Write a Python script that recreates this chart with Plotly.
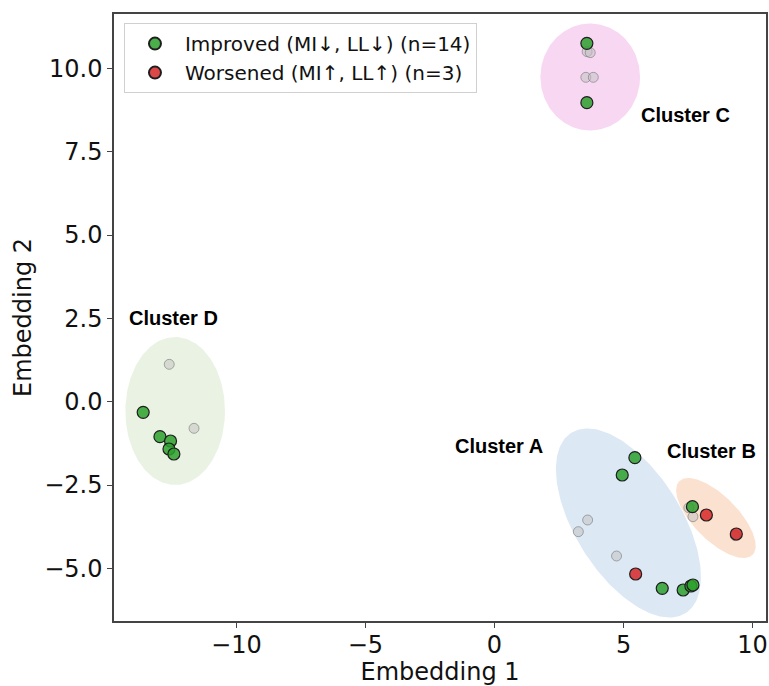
import numpy as np
import plotly.graph_objects as go

# ---- data ----
improved_x = [3.58, 3.58, -13.61, -12.96, -12.55, -12.61, -12.42, 5.44, 4.95, 6.50, 7.31, 7.61, 7.69, 7.67]
improved_y = [10.75, 8.97, -0.32, -1.05, -1.18, -1.42, -1.57, -1.68, -2.20, -5.60, -5.65, -5.53, -5.50, -3.15]

worsened_x = [5.47, 8.21, 9.37]
worsened_y = [-5.17, -3.40, -3.97]

neutral_x = [3.59, 3.71, 3.54, 3.83, -12.60, -11.64, 3.61, 3.25, 4.73, 7.53, 7.69, 9.33]
neutral_y = [10.50, 10.47, 9.73, 9.73, 1.12, -0.80, -3.55, -3.90, -4.63, -3.18, -3.45, -4.02]

cluster_names = ["Cluster A", "Cluster B", "Cluster C", "Cluster D"]
cluster_cx = [5.19, 8.58, 3.71, -12.37]
cluster_cy = [-3.64, -3.49, 9.74, -0.28]
cluster_w = [7.07, 3.62, 3.86, 3.86]
cluster_h = [3.71, 1.47, 3.21, 4.44]
cluster_angle = [-45.5, -35.0, 0.0, 0.0]
cluster_colors = ["#dde8f5", "#fbe1cf", "#f8d7f3", "#eaf3e3"]
label_x = [0.19, 8.41, 7.39, -12.44]
label_y = [-1.33, -1.48, 8.60, 2.51]

legend_improved = "Improved (MI↓, LL↓) (n=14)"
legend_worsened = "Worsened (MI↑, LL↑) (n=3)"

fig = go.Figure()

t = np.linspace(0, 2 * np.pi, 200)
for cx, cy, w, h, ang, col in zip(cluster_cx, cluster_cy, cluster_w, cluster_h, cluster_angle, cluster_colors):
    th = np.deg2rad(ang)
    ex = cx + (w / 2) * np.cos(t) * np.cos(th) - (h / 2) * np.sin(t) * np.sin(th)
    ey = cy + (w / 2) * np.cos(t) * np.sin(th) + (h / 2) * np.sin(t) * np.cos(th)
    fig.add_trace(go.Scatter(x=ex, y=ey, mode="lines", fill="toself", fillcolor=col,
                             line=dict(width=0, color=col), showlegend=False, hoverinfo="skip"))

fig.add_trace(go.Scatter(x=neutral_x, y=neutral_y, mode="markers", showlegend=False,
                         marker=dict(size=10, color="rgba(195,195,195,0.55)",
                                     line=dict(width=1, color="rgba(110,110,110,0.55)"))))
fig.add_trace(go.Scatter(x=improved_x, y=improved_y, mode="markers", name=legend_improved,
                         marker=dict(size=12, color="rgba(44,160,44,0.85)",
                                     line=dict(width=1.2, color="#1e1e1e"))))
fig.add_trace(go.Scatter(x=worsened_x, y=worsened_y, mode="markers", name=legend_worsened,
                         marker=dict(size=12, color="rgba(214,39,40,0.85)",
                                     line=dict(width=1.2, color="#1e1e1e"))))

for name, lx, ly in zip(cluster_names, label_x, label_y):
    fig.add_annotation(x=lx, y=ly, text="<b>" + name + "</b>", showarrow=False,
                       font=dict(family="Liberation Sans, Arial", size=20, color="#000"))

axis_common = dict(showgrid=False, zeroline=False, showline=True, linecolor="#444", linewidth=1.5,
                   mirror=True, ticks="outside", ticklen=5, tickwidth=1.2, tickcolor="#444",
                   tickfont=dict(family="DejaVu Sans", size=24, color="#111"))

fig.update_layout(
    width=769, height=686,
    margin=dict(l=114, r=1, t=14, b=65),
    paper_bgcolor="white", plot_bgcolor="white",
    xaxis=dict(range=[-14.74, 10.52], tickvals=[-10, -5, 0, 5, 10],
               ticktext=["−10", "−5", "0", "5", "10"], ticklabelstandoff=-4,
               title=dict(text="Embedding 1", font=dict(family="DejaVu Sans", size=24, color="#111"), standoff=0),
               **axis_common),
    yaxis=dict(range=[-6.58, 11.63], tickvals=[-5, -2.5, 0, 2.5, 5, 7.5, 10],
               ticktext=["−5.0", "−2.5", "0.0", "2.5", "5.0", "7.5", "10.0"],
               title=dict(text="Embedding 2", font=dict(family="DejaVu Sans", size=24, color="#111"), standoff=6),
               **axis_common),
    legend=dict(x=0.0153, y=0.985, xanchor="left", yanchor="top",
                bgcolor="white", bordercolor="#d0d0d0", borderwidth=1, itemwidth=50,
                font=dict(family="DejaVu Sans", size=20, color="#111"), itemsizing="constant"),
)

fig.write_html("out.html")
